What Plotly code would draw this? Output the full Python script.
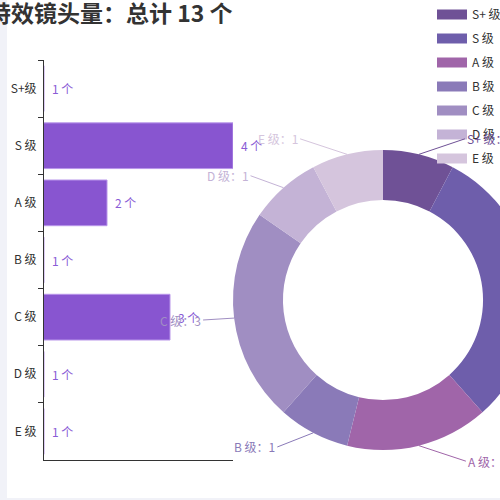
import math
import plotly.graph_objects as go

# -----------------------------
# Data
# -----------------------------
grades = ["S+级", "S 级", "A 级", "B 级", "C 级", "D 级", "E 级"]
pie_names = ["S+ 级", "S 级", "A 级", "B 级", "C 级", "D 级", "E 级"]
counts = [1, 4, 2, 1, 3, 1, 1]
total = sum(counts)

pie_colors = ["#6f5196", "#6e5eab", "#a065a9", "#8a7ab8",
              "#a08ec2", "#c4b3d6", "#d5c5dd"]
bar_color = "#8855d0"
label_color = "#8a5cd6"

# -----------------------------
# Canvas geometry (pixels)
# -----------------------------
W, H = 540, 500
ML, MR, MT, MB = 44, 0, 60, 40
PW, PH = W - ML - MR, H - MT - MB
CX, CY, R = 383, 300, 150   # donut centre / radius
label_dx = [46, 46, 47, 36, 31, 33, 47]   # leader line horizontal reach


def px_x(p):
    return (p - ML) / PW


def px_y(p):
    return (H - MB - p) / PH


fig = go.Figure()

# -----------------------------
# Horizontal bars
# -----------------------------
fig.add_trace(go.Bar(
    y=grades, x=counts, orientation="h", width=0.8,
    marker=dict(color=bar_color, line=dict(color="#b996ea", width=1)),
    showlegend=False, hoverinfo="skip",
))

for g, v in zip(grades, counts):
    fig.add_annotation(
        x=v, y=g, xref="x", yref="y", text=f"{v} 个",
        showarrow=False, xanchor="left", xshift=6,
        font=dict(size=12, color=label_color),
    )

# -----------------------------
# Donut
# -----------------------------
fig.add_trace(go.Pie(
    labels=pie_names, values=counts, sort=False,
    direction="clockwise", rotation=0, hole=0.667,
    marker=dict(colors=pie_colors, line=dict(width=0)),
    textinfo="none", hoverinfo="skip", showlegend=False,
    domain=dict(x=[px_x(CX - R), px_x(CX + R)],
                y=[px_y(CY + R), px_y(CY - R)]),
))

# legend entries (one group each so they can be spaced out)
for name, c in zip(pie_names, pie_colors):
    fig.add_trace(go.Scatter(
        x=[None], y=[None], mode="lines", name=name, legendgroup=name,
        line=dict(color=c, width=14), hoverinfo="skip",
    ))

# slice labels with leader lines
cum = 0
for name, v, c, dx in zip(pie_names, counts, pie_colors, label_dx):
    ang = 2 * math.pi * (cum + v / 2) / total
    cum += v
    ex = CX + R * math.sin(ang)
    ey = CY - R * math.cos(ang)
    side = 1 if math.sin(ang) >= 0 else -1
    fig.add_annotation(
        x=px_x(ex), y=px_y(ey), xref="paper", yref="paper",
        text=f"{name}：{v}", showarrow=True, arrowhead=0,
        arrowwidth=1, arrowcolor=c,
        ax=side * dx, ay=-math.cos(ang) * 16,
        xanchor="left" if side > 0 else "right",
        font=dict(size=12, color=c),
    )

# -----------------------------
# Title
# -----------------------------
fig.add_annotation(
    x=px_x(-14), y=px_y(12), xref="paper", yref="paper",
    text="<b>特效镜头量：总计 13 个</b>", showarrow=False,
    xanchor="left", yanchor="middle",
    font=dict(size=23, color="#333333"),
)

# page-edge strips
fig.add_shape(type="rect", xref="paper", yref="paper",
              x0=px_x(0), x1=px_x(7), y0=px_y(H), y1=px_y(0),
              fillcolor="#f1f2f8", line=dict(width=0), layer="below")
fig.add_shape(type="rect", xref="paper", yref="paper",
              x0=px_x(0), x1=px_x(W), y0=px_y(H), y1=px_y(498),
              fillcolor="#f1f2f8", line=dict(width=0), layer="below")

# -----------------------------
# Layout
# -----------------------------
fig.update_layout(
    width=W, height=H,
    margin=dict(l=ML, r=MR, t=MT, b=MB, autoexpand=False),
    paper_bgcolor="white", plot_bgcolor="white",
    font=dict(family="Noto Sans CJK SC", size=12, color="#333333"),
    xaxis=dict(domain=[0, 189 / PW], range=[1, 4], showline=True,
               linecolor="#333333", showticklabels=False, showgrid=False,
               zeroline=False, ticks=""),
    yaxis=dict(categoryorder="array", categoryarray=grades,
               autorange="reversed", showline=True, linecolor="#333333",
               ticks="outside", ticklen=5, tickcolor="#333333",
               tickson="boundaries", showgrid=False, ticklabelstandoff=4,
               tickfont=dict(size=12, color="#333333")),
    legend=dict(xref="container", yref="container", x=432 / W, y=1 + 1 / H,
                xanchor="left", yanchor="top", tracegroupgap=5,
                itemsizing="trace",
                font=dict(size=12, color="#333333"), bgcolor="rgba(0,0,0,0)"),
    bargap=0.2,
)

# drop the default page margin so the figure sits at the window corner
fig.write_html("out.html", config={"displayModeBar": False},
               post_script="document.body.style.margin='0';")
